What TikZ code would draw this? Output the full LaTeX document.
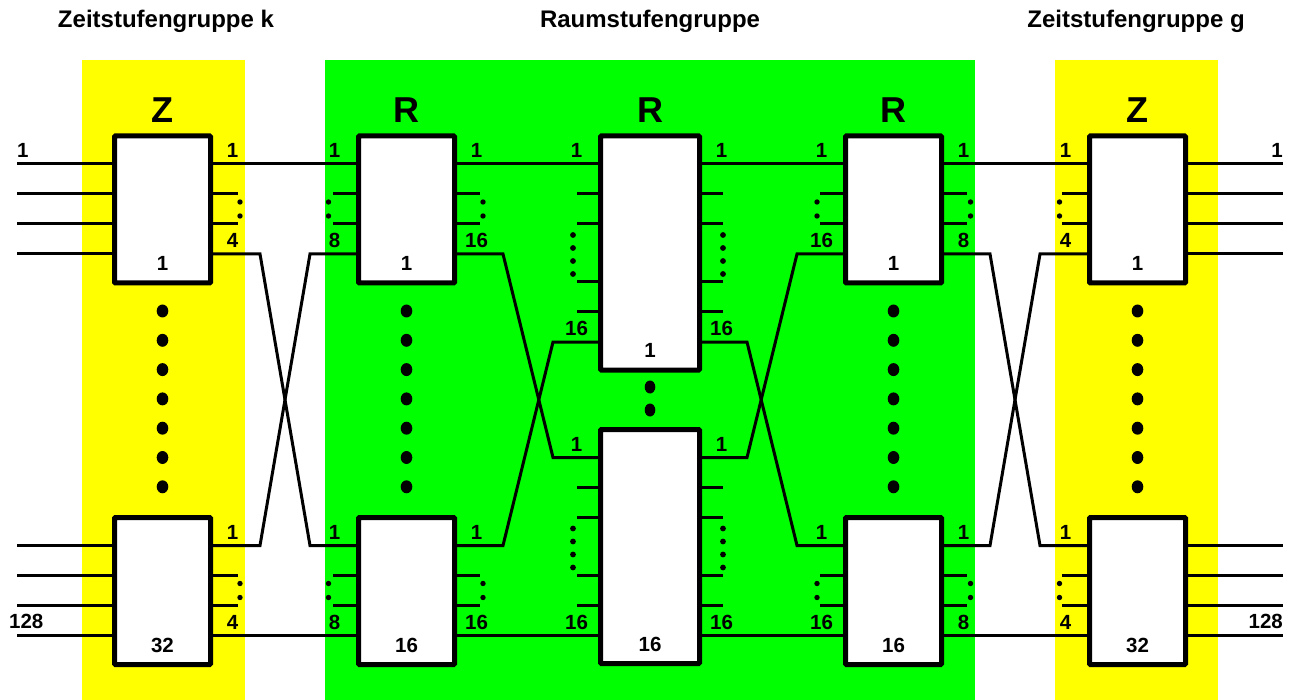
\documentclass[tikz,border=0pt]{standalone}
\usepackage{fontspec}
\setmainfont{Liberation Sans}

\definecolor{zeitgelb}{RGB}{255,255,0}
\definecolor{raumgruen}{RGB}{0,255,0}

\newcommand\numfont{\fontsize{20.5}{24}\selectfont\bfseries}
\newcommand\bigfont{\fontsize{36}{40}\selectfont\bfseries}
\newcommand\headfont{\fontsize{24}{28}\selectfont\bfseries}

% port coordinates <box>-w<k> / <box>-e<k>, offsets from the top edge
\newcommand\mkports[2]{%
  \foreach \dy [count=\k] in {#2}{%
    \coordinate (#1-w\k) at ([yshift=-\dy pt]#1.north west);
    \coordinate (#1-e\k) at ([yshift=-\dy pt]#1.north east);}}
% numbers above the ports
\newcommand\inlab[2]{\node[num,anchor=south] at ([xshift=-24pt,yshift=6pt]#1) {#2};}
\newcommand\outlab[2]{\node[num,anchor=south] at ([xshift=22pt,yshift=6pt]#1) {#2};}
% two short wires 2 and 3 with a colon of dots
\newcommand\stubs[4]{%
  \draw[wire] (#1-#22) -- ++(#3,0) (#1-#23) -- ++(#3,0);
  \fill ([xshift=#4pt,yshift=-8pt]#1-#22) circle (2.7)
        ([xshift=#4pt,yshift=-22pt]#1-#22) circle (2.7);}
% four short wires 2..5 of a middle block, four dots in between
\newcommand\midstubs[4]{%
  \foreach \k in {2,...,5} \draw[wire] (#1-#2\k) -- ++(#3,0);
  \foreach \dy in {11,24,37,50} \fill ([xshift=#4pt,yshift=-\dy pt]#1-#23) circle (2.9);}

\begin{document}
\begin{tikzpicture}[x=1pt,y=-1pt,
  zbox/.style={draw,line width=5pt,fill=white,minimum width=96pt,minimum height=147pt,
    inner sep=0pt,outer sep=0pt,rounded corners=1pt},
  rbox/.style={zbox,minimum width=99pt,minimum height=234pt},
  wire/.style={line width=3pt},
  num/.style={font=\numfont,inner sep=0pt},
  big/.style={font=\bigfont,inner sep=0pt},
  head/.style={font=\headfont,inner sep=0pt}]
\useasboundingbox (0,0) rectangle (1292,700);

% stage groups
\fill[zeitgelb] (82,60) rectangle (245,700);
\fill[raumgruen] (325,60) rectangle (975,700);
\fill[zeitgelb] (1055,60) rectangle (1218,700);
\node[head,anchor=base] (tk) at (166,28) {Zeitstufengruppe k};
\node[head,anchor=base] (rs) at (650,28) {Raumstufengruppe};
\node[head,anchor=base] (tg) at (1136,28) {Zeitstufengruppe g};

% blocks
\node[zbox,label={[big,yshift=13pt]above:Z},label={[num,anchor=south,yshift=12pt]south:1}] (zk1) at (162.5,209.5) {};
\node[zbox,label={[num,anchor=south,yshift=12pt]south:32}] (zk32) at (162.5,591) {};
\node[zbox,label={[big,yshift=13pt]above:R},label={[num,anchor=south,yshift=12pt]south:1}] (ra1) at (406.5,209.5) {};
\node[zbox,label={[num,anchor=south,yshift=12pt]south:16}] (ra16) at (406.5,591) {};
\node[rbox,label={[big,yshift=13pt]above:R},label={[num,anchor=south,yshift=12pt]south:1}] (rb1) at (650,253) {};
\node[rbox,label={[num,anchor=south,yshift=12pt]south:16}] (rb16) at (650,546.5) {};
\node[zbox,label={[big,yshift=13pt]above:R},label={[num,anchor=south,yshift=12pt]south:1}] (rc1) at (893.5,209.5) {};
\node[zbox,label={[num,anchor=south,yshift=12pt]south:16}] (rc16) at (893.5,591) {};
\node[zbox,label={[big,yshift=13pt]above:Z},label={[num,anchor=south,yshift=12pt]south:1}] (zg1) at (1137.5,209.5) {};
\node[zbox,label={[num,anchor=south,yshift=12pt]south:32}] (zg32) at (1137.5,591) {};

\foreach \b in {zk1,zk32,ra1,ra16,rc1,rc16,zg1,zg32} {\mkports{\b}{28,58,88,118}}
\foreach \b in {rb1,rb16} {\mkports{\b}{28,58,88,146,176,206}}

% outer lines
\foreach \b in {zk1,zk32} \foreach \k in {1,...,4} \draw[wire] (\b-w\k) -- ++(-97.5,0);
\foreach \b in {zg1,zg32} \foreach \k in {1,...,4} \draw[wire] (\b-e\k) -- ++(97.5,0);
\node[num,anchor=south west] at (17,158) {1};
\node[num,anchor=south west] at (9,629) {128};
\node[num,anchor=south east] at (1283,158) {1};
\node[num,anchor=south east] at (1283,629) {128};

% Z -> R
\draw[wire] (zk1-e1) -- (ra1-w1);
\draw[wire] (zk1-e4) -- ++(49.5,0) -- ([xshift=-48.5pt]ra16-w1) -- (ra16-w1);
\draw[wire] (zk32-e1) -- ++(49.5,0) -- ([xshift=-48.5pt]ra1-w4) -- (ra1-w4);
\draw[wire] (zk32-e4) -- (ra16-w4);
% R -> middle R
\draw[wire] (ra1-e1) -- (rb1-w1);
\draw[wire] (ra1-e4) -- ++(48.5,0) -- ([xshift=-47.5pt]rb16-w1) -- (rb16-w1);
\draw[wire] (ra16-e1) -- ++(48.5,0) -- ([xshift=-47.5pt]rb1-w6) -- (rb1-w6);
\draw[wire] (ra16-e4) -- (rb16-w6);
% middle R -> R
\draw[wire] (rb1-e1) -- (rc1-w1);
\draw[wire] (rb1-e6) -- ++(47.5,0) -- ([xshift=-48.5pt]rc16-w1) -- (rc16-w1);
\draw[wire] (rb16-e1) -- ++(47.5,0) -- ([xshift=-48.5pt]rc1-w4) -- (rc1-w4);
\draw[wire] (rb16-e6) -- (rc16-w4);
% R -> Z
\draw[wire] (rc1-e1) -- (zg1-w1);
\draw[wire] (rc1-e4) -- ++(48.5,0) -- ([xshift=-49.5pt]zg32-w1) -- (zg32-w1);
\draw[wire] (rc16-e1) -- ++(48.5,0) -- ([xshift=-49.5pt]zg1-w4) -- (zg1-w4);
\draw[wire] (rc16-e4) -- (zg32-w4);

% short wires
\foreach \b in {zk1,zk32} {\stubs{\b}{e}{27.5}{29.5}}
\foreach \b in {ra1,ra16} {\stubs{\b}{w}{-25.5}{-30}\stubs{\b}{e}{25.5}{28.5}}
\foreach \b in {rc1,rc16} {\stubs{\b}{w}{-25.5}{-28.5}\stubs{\b}{e}{25.5}{29}}
\foreach \b in {zg1,zg32} {\stubs{\b}{w}{-27.5}{-30}}
\foreach \b in {rb1,rb16} {\midstubs{\b}{w}{-23.5}{-27.5}\midstubs{\b}{e}{23.5}{23.5}}

% port numbers
\foreach \b in {zk1,zk32} {\outlab{\b-e1}{1}\outlab{\b-e4}{4}}
\foreach \b in {ra1,ra16} {\inlab{\b-w1}{1}\inlab{\b-w4}{8}\outlab{\b-e1}{1}\outlab{\b-e4}{16}}
\foreach \b in {rb1,rb16} {\inlab{\b-w1}{1}\inlab{\b-w6}{16}\outlab{\b-e1}{1}\outlab{\b-e6}{16}}
\foreach \b in {rc1,rc16} {\inlab{\b-w1}{1}\inlab{\b-w4}{16}\outlab{\b-e1}{1}\outlab{\b-e4}{8}}
\foreach \b in {zg1,zg32} {\inlab{\b-w1}{1}\inlab{\b-w4}{4}}

% columns of dots
\foreach \x in {162.5,406.5,893.5,1137.5}
  \foreach \k in {0,...,6} \fill (\x,311+29.3*\k) ellipse (5.8 and 6.5);
\fill (650,387) ellipse (5.3 and 6.5) (650,410) ellipse (5.3 and 6.5);
\end{tikzpicture}
\end{document}
